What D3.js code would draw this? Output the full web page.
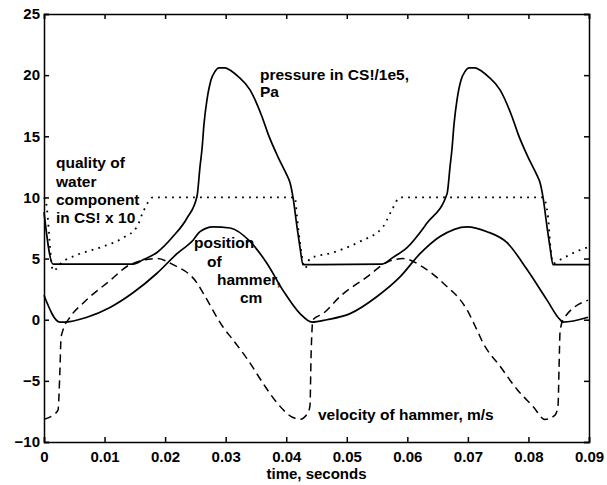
<!DOCTYPE html>
<html>
<head>
<meta charset="utf-8">
<script src="https://cdn.jsdelivr.net/npm/d3@7"></script>
<style>
  body { margin: 0; background: #fff; }
  svg { display: block; }
  text { font-family: "Liberation Sans", Arial, sans-serif; font-weight: bold; font-size: 15.5px; fill: #000; }
</style>
</head>
<body>
<div id="chart"></div>
<script>
// time in seconds
var pressureT = [0, 0.00149, 0.0147, 0.01635, 0.01866, 0.0213, 0.0236, 0.02527, 0.02576, 0.0261, 0.02642, 0.02692, 0.02758, 0.02824, 0.0289, 0.02989, 0.03105, 0.03204, 0.03402, 0.036, 0.037, 0.03865, 0.04013, 0.04063, 0.04112, 0.04178, 0.04228, 0.04277,
                 0.05582, 0.05764, 0.05995, 0.06325, 0.06656, 0.06705, 0.06738, 0.06771, 0.06821, 0.06887, 0.06953, 0.07019, 0.07118, 0.07234, 0.07333, 0.07531, 0.07729, 0.07828, 0.07993, 0.08142, 0.08192, 0.08241, 0.08307, 0.08357, 0.08406, 0.09];
var pressureV = [8.8, 4.55, 4.55, 4.9, 5.5, 6.8, 8.3, 10.1, 12.5, 14.0, 16.0, 18.0, 19.6, 20.3, 20.6, 20.6, 20.3, 19.9, 18.8, 16.6, 15.2, 13.3, 11.8, 11.2, 10.0, 7.6, 5.9, 4.5,
                 4.55, 5.1, 5.9, 7.9, 10.3, 12.5, 14.0, 16.0, 18.0, 19.6, 20.3, 20.6, 20.6, 20.3, 19.9, 18.8, 16.6, 15.2, 13.3, 11.8, 11.2, 10.0, 7.6, 5.9, 4.5, 4.5];

var qualityT = [0, 0.00033, 0.00149, 0.00297, 0.00545, 0.00925, 0.01305, 0.01536, 0.01635, 0.018, 0.04145, 0.04178, 0.04228, 0.0431, 0.04393, 0.04773, 0.05219, 0.05599, 0.05747, 0.05879, 0.08241, 0.08324, 0.08357, 0.08406, 0.08522, 0.08852, 0.09];
var qualityV = [10.0, 9.6, 4.0, 4.7, 5.3, 5.9, 6.7, 7.6, 8.8, 10.0, 10.0, 8.4, 6.3, 4.2, 5.0, 5.5, 6.4, 7.6, 9.0, 10.0, 10.0, 8.4, 6.3, 4.6, 4.9, 5.7, 5.95];

var positionT = [0, 0.00264, 0.00429, 0.0071, 0.0109, 0.0147, 0.01866, 0.02197, 0.02461, 0.02576, 0.02791, 0.03072, 0.03402, 0.03683, 0.03947, 0.04228, 0.04426, 0.04674, 0.05054, 0.055, 0.05879, 0.0621, 0.0654, 0.06986, 0.07316, 0.07647, 0.07977, 0.08307, 0.08522, 0.08571, 0.08984];
var positionV = [2.0, -0.2, -0.15, 0.2, 1.0, 2.2, 3.8, 5.4, 6.5, 7.2, 7.6, 7.5, 6.4, 4.6, 2.4, 0.5, -0.2, 0.0, 0.5, 1.9, 3.5, 5.4, 6.8, 7.6, 7.2, 6.3, 4.1, 1.6, 0.0, -0.2, 0.2];

var velocityT = [0, 0.00149, 0.00231, 0.00264, 0.00281, 0.00314, 0.00429, 0.00644, 0.0109, 0.0142, 0.01866, 0.0213, 0.02527, 0.02626, 0.02956, 0.03121, 0.03369, 0.03617, 0.03848, 0.04112, 0.04228, 0.0436, 0.04393, 0.0441, 0.04443, 0.04608, 0.04889, 0.05334, 0.05665, 0.05929, 0.06259, 0.0659, 0.06986, 0.07151, 0.0725, 0.07531, 0.07812, 0.08076, 0.08274, 0.08439, 0.08489, 0.08505, 0.08522, 0.08571, 0.08984];
var velocityV = [-8.15, -7.8, -7.4, -4.0, -1.5, -0.85, 0.2, 1.35, 3.2, 4.5, 5.0, 4.5, 3.0, 2.2, -0.6, -1.65, -3.3, -5.2, -6.8, -8.0, -8.15, -7.6, -7.0, -3.0, 0.0, 0.5, 1.9, 3.5, 4.7, 5.0, 4.3, 3.0, 0.8, -0.85, -1.9, -3.8, -5.7, -7.1, -8.15, -7.8, -7.0, -4.0, -1.0, 0.0, 1.6];

var xTicks = [0, 0.01, 0.02, 0.03, 0.04, 0.05, 0.06, 0.07, 0.08, 0.09];
var yTicks = [-10, -5, 0, 5, 10, 15, 20, 25];

var W = 607, H = 485;
var margin = {top: 14, right: 18, bottom: 43, left: 44};
var w = W - margin.left - margin.right,
    h = H - margin.top - margin.bottom;

var svg = d3.select("#chart").append("svg")
    .attr("width", W)
    .attr("height", H);

var g = svg.append("g")
    .attr("transform", "translate(" + margin.left + "," + margin.top + ")");

var x = d3.scaleLinear().domain([0, 0.09]).range([0, w]);
var y = d3.scaleLinear().domain([-10, 25]).range([h, 0]);

function pairs(ts, vs) {
    return ts.map(function (t, i) { return [t, vs[i]]; });
}

var line = d3.line()
    .x(function (d) { return x(d[0]); })
    .y(function (d) { return y(d[1]); })
    .curve(d3.curveMonotoneX);

// curves
g.append("path").datum(pairs(pressureT, pressureV))
    .attr("d", line).attr("fill", "none").attr("stroke", "#000").attr("stroke-width", 1.7);
g.append("path").datum(pairs(positionT, positionV))
    .attr("d", line).attr("fill", "none").attr("stroke", "#000").attr("stroke-width", 1.7);
g.append("path").datum(pairs(qualityT, qualityV))
    .attr("d", line).attr("fill", "none").attr("stroke", "#000").attr("stroke-width", 1.8)
    .attr("stroke-dasharray", "1.8,5.2");
g.append("path").datum(pairs(velocityT, velocityV))
    .attr("d", line).attr("fill", "none").attr("stroke", "#000").attr("stroke-width", 1.5)
    .attr("stroke-dasharray", "8,5");

// axes, ticks pointing inward on all four sides
var fmtX = function (d) { return d === 0 ? "0" : d3.format(".2f")(d); };

g.append("g").attr("class", "axis")
    .attr("transform", "translate(0," + h + ")")
    .call(d3.axisBottom(x).tickValues(xTicks).tickFormat(fmtX).tickSize(-5).tickPadding(9));
g.append("g").attr("class", "axis")
    .call(d3.axisTop(x).tickValues(xTicks).tickFormat("").tickSize(-5));
g.append("g").attr("class", "axis")
    .call(d3.axisLeft(y).tickValues(yTicks).tickSize(-5).tickPadding(4));
g.append("g").attr("class", "axis")
    .attr("transform", "translate(" + w + ",0)")
    .call(d3.axisRight(y).tickValues(yTicks).tickFormat("").tickSize(-5));

g.selectAll(".axis text")
    .attr("font-family", null).attr("font-size", null)
    .style("font-family", '"Liberation Sans", Arial, sans-serif')
    .style("font-weight", "bold").style("font-size", "15px");
g.selectAll(".axis path, .axis line")
    .attr("stroke", "#000").attr("stroke-width", 1.5);

// annotations
function label(lines) {
    lines.forEach(function (l) {
        svg.append("text").attr("x", l[1]).attr("y", l[2]).text(l[0]);
    });
}
label([["pressure in CS!/1e5,", 260, 80], ["Pa", 260, 97]]);
label([["quality of", 56, 168], ["water", 56, 187], ["component", 56, 205], ["in CS! x 10", 56, 223]]);
label([["position", 194, 248], ["of", 207, 267], ["hammer,", 217, 285], ["cm", 240, 303]]);
label([["velocity of hammer, m/s", 318, 420]]);

svg.append("text")
    .attr("x", margin.left + w / 2)
    .attr("y", 479)
    .attr("text-anchor", "middle")
    .style("font-size", "15px")
    .text("time, seconds");
</script>
</body>
</html>
